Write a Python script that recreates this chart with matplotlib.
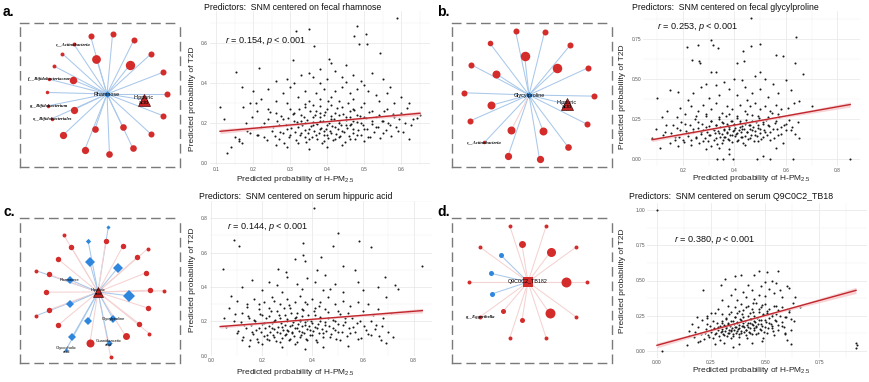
import numpy as np
import matplotlib
matplotlib.use("Agg")
import matplotlib.pyplot as plt
from matplotlib.ticker import AutoMinorLocator

plt.rcParams['font.family'] = ['Liberation Sans', 'DejaVu Sans']
plt.rcParams['mathtext.fontset'] = 'custom'
plt.rcParams['mathtext.rm'] = 'Liberation Sans'
plt.rcParams['mathtext.it'] = 'Liberation Sans:italic'

# ---------------- scatter data (thinned) ----------------
a_x = [0.588, 0.48, 0.351, 0.315, 0.473, 0.505, 0.486, 0.365, 0.508, 0.308, 0.403, 0.543, 0.153, 0.214, 0.41, 0.45,
       0.38, 0.42, 0.35, 0.33, 0.47, 0.52, 0.44, 0.29, 0.36, 0.49, 0.40, 0.26, 0.55, 0.31, 0.38, 0.45, 0.50, 0.57,
       0.17, 0.20, 0.24, 0.28, 0.30, 0.34, 0.37, 0.39, 0.42, 0.44, 0.46, 0.48, 0.51, 0.53, 0.56, 0.60, 0.62, 0.22,
       0.26, 0.32, 0.35, 0.38, 0.41, 0.43, 0.47, 0.50, 0.54, 0.58, 0.19, 0.29,
       0.12, 0.14, 0.16, 0.17, 0.18, 0.19, 0.21, 0.22, 0.23, 0.24, 0.25, 0.26, 0.27, 0.27, 0.28, 0.29, 0.30, 0.30,
       0.31, 0.32, 0.32, 0.33, 0.33, 0.34, 0.34, 0.35, 0.35, 0.36, 0.36, 0.37, 0.37, 0.38, 0.38, 0.39, 0.39, 0.40,
       0.40, 0.41, 0.41, 0.42, 0.42, 0.43, 0.43, 0.44, 0.44, 0.45, 0.45, 0.46, 0.46, 0.47, 0.47, 0.48, 0.48, 0.49,
       0.49, 0.50, 0.50, 0.51, 0.52, 0.52, 0.53, 0.54, 0.55, 0.55, 0.56, 0.57, 0.58, 0.59, 0.60, 0.61, 0.62, 0.63,
       0.65, 0.26, 0.29, 0.35, 0.40, 0.44, 0.31, 0.36, 0.41, 0.39, 0.43, 0.37, 0.34, 0.46, 0.33, 0.42, 0.38, 0.40,
       0.47, 0.28, 0.24, 0.21, 0.13, 0.15, 0.11]
a_y = [0.725, 0.685, 0.668, 0.66, 0.635, 0.643, 0.593, 0.585, 0.593, 0.517, 0.522, 0.553, 0.455, 0.475, 0.50, 0.49,
       0.47, 0.46, 0.45, 0.44, 0.44, 0.45, 0.43, 0.42, 0.43, 0.41, 0.42, 0.41, 0.42, 0.40, 0.40, 0.405, 0.39, 0.38,
       0.38, 0.36, 0.37, 0.35, 0.38, 0.36, 0.35, 0.37, 0.36, 0.38, 0.35, 0.37, 0.36, 0.34, 0.35, 0.33, 0.30, 0.32,
       0.31, 0.33, 0.31, 0.32, 0.33, 0.31, 0.32, 0.30, 0.31, 0.30, 0.30, 0.30,
       0.22, 0.08, 0.12, 0.10, 0.20, 0.15, 0.26, 0.18, 0.13, 0.22, 0.16, 0.25, 0.19, 0.12, 0.22, 0.17, 0.27, 0.14,
       0.21, 0.18, 0.10, 0.24, 0.15, 0.20, 0.28, 0.17, 0.12, 0.23, 0.19, 0.26, 0.14, 0.21, 0.17, 0.24, 0.11, 0.19,
       0.27, 0.15, 0.22, 0.18, 0.25, 0.13, 0.20, 0.28, 0.16, 0.23, 0.19, 0.12, 0.26, 0.21, 0.17, 0.24, 0.14, 0.20,
       0.28, 0.17, 0.23, 0.13, 0.21, 0.26, 0.18, 0.24, 0.15, 0.21, 0.27, 0.19, 0.23, 0.16, 0.25, 0.20, 0.12, 0.22,
       0.24, 0.09, 0.08, 0.07, 0.08, 0.09, 0.25, 0.29, 0.29, 0.16, 0.24, 0.20, 0.13, 0.19, 0.21, 0.12, 0.25, 0.14,
       0.27, 0.15, 0.27, 0.14, 0.05, 0.13, 0.28]
a_core = [[0.213, 0.142], [0.228, 0.203], [0.236, 0.117], [0.244, 0.254], [0.252, 0.183], [0.258, 0.139],
          [0.263, 0.212], [0.271, 0.158], [0.276, 0.238], [0.282, 0.104], [0.287, 0.191], [0.293, 0.227],
          [0.297, 0.132], [0.303, 0.176], [0.306, 0.248], [0.312, 0.157], [0.316, 0.116], [0.319, 0.204],
          [0.323, 0.271], [0.327, 0.143], [0.331, 0.189], [0.336, 0.232], [0.339, 0.167], [0.342, 0.107],
          [0.346, 0.214], [0.348, 0.152], [0.352, 0.263], [0.355, 0.186], [0.358, 0.131], [0.361, 0.208],
          [0.364, 0.164], [0.367, 0.243], [0.371, 0.122], [0.373, 0.196], [0.376, 0.151], [0.379, 0.229],
          [0.382, 0.178], [0.385, 0.103], [0.388, 0.212], [0.391, 0.142], [0.394, 0.257], [0.397, 0.174],
          [0.401, 0.126], [0.404, 0.203], [0.407, 0.161], [0.409, 0.236], [0.413, 0.188], [0.416, 0.117],
          [0.419, 0.221], [0.422, 0.149], [0.425, 0.274], [0.428, 0.172], [0.431, 0.209], [0.434, 0.136],
          [0.437, 0.191], [0.441, 0.246], [0.444, 0.159], [0.447, 0.109], [0.451, 0.217], [0.454, 0.178],
          [0.457, 0.139], [0.461, 0.232], [0.464, 0.194], [0.468, 0.152], [0.472, 0.268], [0.475, 0.121],
          [0.479, 0.207], [0.483, 0.168], [0.487, 0.238], [0.491, 0.143], [0.495, 0.191], [0.499, 0.112],
          [0.503, 0.226], [0.507, 0.172], [0.512, 0.254], [0.516, 0.134], [0.521, 0.197], [0.526, 0.158],
          [0.531, 0.231], [0.536, 0.184], [0.542, 0.127], [0.547, 0.212], [0.553, 0.262], [0.558, 0.166],
          [0.564, 0.201], [0.571, 0.139], [0.577, 0.244], [0.584, 0.183], [0.592, 0.219], [0.603, 0.158],
          [0.614, 0.276], [0.627, 0.191], [0.641, 0.228], [0.196, 0.231], [0.183, 0.164], [0.171, 0.283],
          [0.162, 0.112], [0.206, 0.301], [0.339, 0.296], [0.402, 0.311], [0.455, 0.302], [0.381, 0.287]]

b_x = [0.464, 0.64, 0.214, 0.259, 0.311, 0.317, 0.338, 0.498, 0.465, 0.433, 0.563, 0.589, 0.236, 0.262, 0.268, 0.41,
       0.436, 0.637, 0.309, 0.327, 0.667, 0.498, 0.48, 0.40, 0.36, 0.43, 0.52, 0.55, 0.60, 0.33, 0.27, 0.29, 0.44,
       0.50, 0.38, 0.62, 0.15, 0.18, 0.24, 0.57, 0.47, 0.10, 0.34, 0.41, 0.53, 0.65, 0.70, 0.30, 0.22, 0.45,
       0.14, 0.12, 0.19, 0.23, 0.26, 0.28, 0.31, 0.33, 0.35, 0.37, 0.39, 0.42, 0.44, 0.46, 0.48, 0.50, 0.52, 0.54,
       0.56, 0.58, 0.61, 0.63, 0.21, 0.25, 0.29, 0.34, 0.38, 0.41, 0.45, 0.49, 0.53, 0.57,
       0.08, 0.11, 0.13, 0.15, 0.16, 0.17, 0.18, 0.19, 0.20, 0.21, 0.22, 0.23, 0.24, 0.25, 0.26, 0.27, 0.28, 0.29,
       0.30, 0.31, 0.31, 0.32, 0.33, 0.33, 0.34, 0.35, 0.35, 0.36, 0.36, 0.37, 0.37, 0.38, 0.38, 0.39, 0.39, 0.40,
       0.40, 0.41, 0.41, 0.42, 0.42, 0.43, 0.43, 0.44, 0.44, 0.45, 0.46, 0.46, 0.47, 0.47, 0.48, 0.49, 0.49, 0.50,
       0.51, 0.51, 0.52, 0.53, 0.54, 0.55, 0.56, 0.57, 0.58, 0.59, 0.60, 0.62, 0.65, 0.56, 0.34, 0.38, 0.29,
       0.333, 0.356, 0.395, 0.486, 0.537, 0.628, 0.85, 0.51, 0.38]
b_y = [0.88, 0.76, 0.70, 0.714, 0.746, 0.711, 0.69, 0.72, 0.705, 0.674, 0.65, 0.645, 0.615, 0.61, 0.60, 0.60,
       0.61, 0.60, 0.54, 0.54, 0.53, 0.545, 0.52, 0.50, 0.48, 0.49, 0.50, 0.47, 0.49, 0.46, 0.45, 0.47, 0.45,
       0.44, 0.44, 0.43, 0.43, 0.42, 0.41, 0.41, 0.41, 0.38, 0.40, 0.40, 0.39, 0.36, 0.33, 0.38, 0.37, 0.37,
       0.30, 0.26, 0.32, 0.33, 0.30, 0.34, 0.31, 0.35, 0.29, 0.33, 0.31, 0.34, 0.30, 0.33, 0.35, 0.31, 0.33, 0.30,
       0.34, 0.31, 0.32, 0.35, 0.28, 0.27, 0.28, 0.26, 0.28, 0.27, 0.28, 0.27, 0.26, 0.28,
       0.13, 0.07, 0.17, 0.10, 0.21, 0.14, 0.08, 0.18, 0.12, 0.22, 0.16, 0.09, 0.19, 0.13, 0.23, 0.17, 0.11, 0.20,
       0.15, 0.24, 0.08, 0.18, 0.13, 0.21, 0.16, 0.23, 0.10, 0.19, 0.14, 0.22, 0.17, 0.12, 0.20, 0.24, 0.15, 0.18,
       0.22, 0.11, 0.16, 0.20, 0.24, 0.14, 0.19, 0.22, 0.09, 0.17, 0.21, 0.13, 0.24, 0.18, 0.15, 0.21, 0.11, 0.19,
       0.23, 0.14, 0.17, 0.21, 0.12, 0.19, 0.24, 0.15, 0.20, 0.10, 0.22, 0.18, 0.13, 0.07, 0.07, 0.06, 0.06,
       0.0, 0.0, 0.0, 0.0, 0.0, 0.0, 0.0, 0.02, 0.03]
b_core = [[0.152, 0.163], [0.168, 0.121], [0.177, 0.192], [0.186, 0.137], [0.194, 0.228], [0.203, 0.104],
          [0.211, 0.176], [0.218, 0.143], [0.226, 0.209], [0.233, 0.118], [0.239, 0.167], [0.246, 0.252],
          [0.252, 0.136], [0.258, 0.191], [0.264, 0.097], [0.269, 0.154], [0.274, 0.221], [0.279, 0.182],
          [0.284, 0.128], [0.289, 0.266], [0.294, 0.171], [0.298, 0.112], [0.303, 0.203], [0.307, 0.147],
          [0.311, 0.236], [0.316, 0.184], [0.319, 0.121], [0.323, 0.163], [0.327, 0.211], [0.331, 0.096],
          [0.336, 0.176], [0.339, 0.248], [0.343, 0.139], [0.346, 0.198], [0.351, 0.157], [0.354, 0.116],
          [0.357, 0.226], [0.361, 0.182], [0.364, 0.138], [0.368, 0.267], [0.371, 0.164], [0.374, 0.206],
          [0.377, 0.124], [0.381, 0.189], [0.384, 0.151], [0.387, 0.238], [0.391, 0.108], [0.394, 0.173],
          [0.397, 0.214], [0.401, 0.142], [0.404, 0.196], [0.407, 0.158], [0.411, 0.253], [0.414, 0.119],
          [0.417, 0.181], [0.421, 0.224], [0.424, 0.136], [0.427, 0.167], [0.431, 0.205], [0.434, 0.102],
          [0.438, 0.187], [0.441, 0.146], [0.445, 0.241], [0.448, 0.169], [0.452, 0.127], [0.456, 0.212],
          [0.459, 0.184], [0.463, 0.151], [0.467, 0.272], [0.471, 0.197], [0.475, 0.113], [0.479, 0.176],
          [0.483, 0.229], [0.487, 0.143], [0.492, 0.191], [0.496, 0.258], [0.501, 0.162], [0.505, 0.127],
          [0.511, 0.217], [0.516, 0.181], [0.522, 0.244], [0.527, 0.147], [0.533, 0.203], [0.539, 0.168],
          [0.546, 0.284], [0.552, 0.132], [0.559, 0.226], [0.566, 0.187], [0.574, 0.261], [0.582, 0.154],
          [0.591, 0.213], [0.601, 0.178], [0.612, 0.246], [0.624, 0.201], [0.636, 0.157], [0.649, 0.228],
          [0.133, 0.211], [0.121, 0.152], [0.097, 0.184], [0.178, 0.262]]

c_x = [0.406, 0.088, 0.109, 0.585, 0.631, 0.50, 0.361, 0.483, 0.361, 0.369, 0.33, 0.433, 0.046, 0.833, 0.52, 0.688,
       0.727, 0.74, 0.66, 0.264, 0.296, 0.42, 0.57, 0.30, 0.38, 0.45, 0.16, 0.23, 0.34, 0.41, 0.49, 0.58, 0.26,
       0.12, 0.20, 0.36, 0.44, 0.52, 0.60, 0.69, 0.08, 0.28, 0.47,
       0.07, 0.10, 0.14, 0.17, 0.21, 0.24, 0.27, 0.30, 0.33, 0.35, 0.38, 0.40, 0.43, 0.46, 0.49, 0.52, 0.55, 0.58,
       0.62, 0.66, 0.71, 0.05, 0.09, 0.12, 0.19, 0.23, 0.26, 0.31, 0.36, 0.41, 0.45, 0.50, 0.54, 0.60, 0.64, 0.68,
       0.06, 0.10, 0.12, 0.13, 0.15, 0.16, 0.17, 0.18, 0.19, 0.20, 0.21, 0.22, 0.23, 0.23, 0.24, 0.25, 0.25, 0.26,
       0.27, 0.27, 0.28, 0.29, 0.29, 0.30, 0.30, 0.31, 0.32, 0.32, 0.33, 0.33, 0.34, 0.35, 0.35, 0.36, 0.36, 0.37,
       0.38, 0.38, 0.39, 0.40, 0.40, 0.41, 0.42, 0.42, 0.43, 0.44, 0.45, 0.46, 0.47, 0.48, 0.49, 0.50, 0.51, 0.52,
       0.53, 0.55, 0.56, 0.58, 0.59, 0.61, 0.63, 0.65, 0.67, 0.70, 0.72, 0.28, 0.37, 0.44, 0.54, 0.20, 0.15, 0.34]
c_y = [0.859, 0.674, 0.636, 0.665, 0.63, 0.713, 0.654, 0.64, 0.585, 0.55, 0.56, 0.575, 0.506, 0.52, 0.52, 0.457,
       0.41, 0.39, 0.40, 0.506, 0.49, 0.50, 0.50, 0.46, 0.45, 0.47, 0.44, 0.43, 0.42, 0.43, 0.42, 0.43, 0.41,
       0.40, 0.38, 0.39, 0.38, 0.37, 0.38, 0.34, 0.35, 0.37, 0.39,
       0.28, 0.32, 0.30, 0.33, 0.31, 0.34, 0.30, 0.33, 0.31, 0.35, 0.30, 0.33, 0.31, 0.34, 0.30, 0.32, 0.29, 0.31,
       0.30, 0.27, 0.25, 0.22, 0.20, 0.25, 0.27, 0.28, 0.26, 0.28, 0.27, 0.28, 0.27, 0.26, 0.25, 0.26, 0.24, 0.22,
       0.17, 0.13, 0.09, 0.18, 0.06, 0.14, 0.21, 0.10, 0.16, 0.07, 0.19, 0.12, 0.23, 0.09, 0.16, 0.20, 0.11, 0.14,
       0.22, 0.08, 0.17, 0.12, 0.24, 0.15, 0.20, 0.10, 0.18, 0.13, 0.22, 0.07, 0.16, 0.20, 0.11, 0.14, 0.23, 0.18,
       0.09, 0.21, 0.15, 0.12, 0.19, 0.24, 0.16, 0.08, 0.20, 0.13, 0.18, 0.22, 0.11, 0.16, 0.20, 0.14, 0.09, 0.18,
       0.22, 0.13, 0.17, 0.10, 0.20, 0.15, 0.12, 0.18, 0.09, 0.14, 0.11, 0.05, 0.04, 0.05, 0.06, 0.24, 0.22, 0.25]
c_core = [[0.104, 0.142], [0.117, 0.197], [0.126, 0.112], [0.138, 0.163], [0.146, 0.231], [0.153, 0.092],
          [0.159, 0.177], [0.166, 0.127], [0.172, 0.204], [0.178, 0.151], [0.184, 0.083], [0.191, 0.246],
          [0.196, 0.138], [0.201, 0.186], [0.207, 0.113], [0.212, 0.162], [0.217, 0.221], [0.222, 0.097],
          [0.227, 0.174], [0.231, 0.136], [0.236, 0.263], [0.241, 0.193], [0.245, 0.121], [0.249, 0.157],
          [0.254, 0.211], [0.258, 0.087], [0.262, 0.168], [0.266, 0.238], [0.271, 0.132], [0.275, 0.189],
          [0.279, 0.103], [0.283, 0.152], [0.287, 0.276], [0.291, 0.181], [0.295, 0.124], [0.299, 0.213],
          [0.303, 0.146], [0.307, 0.094], [0.311, 0.172], [0.315, 0.251], [0.319, 0.137], [0.323, 0.198],
          [0.327, 0.116], [0.331, 0.161], [0.335, 0.227], [0.339, 0.083], [0.343, 0.183], [0.347, 0.142],
          [0.351, 0.207], [0.355, 0.119], [0.359, 0.172], [0.363, 0.268], [0.367, 0.131], [0.371, 0.194],
          [0.375, 0.098], [0.379, 0.157], [0.383, 0.236], [0.387, 0.176], [0.391, 0.121], [0.396, 0.201],
          [0.401, 0.143], [0.406, 0.261], [0.411, 0.167], [0.416, 0.092], [0.421, 0.187], [0.426, 0.132],
          [0.431, 0.224], [0.437, 0.156], [0.443, 0.111], [0.449, 0.198], [0.455, 0.146], [0.461, 0.253],
          [0.467, 0.171], [0.474, 0.124], [0.481, 0.209], [0.488, 0.152], [0.495, 0.097], [0.503, 0.183],
          [0.511, 0.241], [0.519, 0.137], [0.528, 0.196], [0.537, 0.116], [0.546, 0.162], [0.556, 0.221],
          [0.567, 0.141], [0.578, 0.189], [0.591, 0.104], [0.604, 0.171], [0.618, 0.128], [0.633, 0.203],
          [0.648, 0.154], [0.662, 0.117], [0.677, 0.176], [0.693, 0.072], [0.142, 0.282], [0.187, 0.302],
          [0.248, 0.317], [0.306, 0.296], [0.372, 0.313], [0.428, 0.292], [0.094, 0.241]]

d_x = [0.0, 0.025, 0.92, 0.925, 0.92,
       0.56, 0.51, 0.47, 0.45, 0.39, 0.36, 0.315, 0.295, 0.215, 0.601, 0.61, 0.53, 0.55, 0.50, 0.42, 0.48, 0.52,
       0.44, 0.40, 0.36, 0.57, 0.34, 0.47, 0.54, 0.41, 0.50, 0.58, 0.64, 0.66, 0.63, 0.45, 0.37, 0.30,
       0.28, 0.33, 0.36, 0.39, 0.42, 0.44, 0.46, 0.48, 0.50, 0.52, 0.54, 0.56, 0.58, 0.61, 0.25, 0.30, 0.34, 0.37,
       0.40, 0.43, 0.45, 0.47, 0.49, 0.51, 0.53, 0.55, 0.59, 0.62, 0.185, 0.21, 0.23,
       0.141, 0.15, 0.17, 0.19, 0.20, 0.22, 0.23, 0.24, 0.25, 0.26, 0.27, 0.28, 0.29, 0.30, 0.30, 0.31, 0.32, 0.32,
       0.33, 0.33, 0.34, 0.34, 0.35, 0.35, 0.36, 0.36, 0.37, 0.37, 0.38, 0.38, 0.39, 0.39, 0.40, 0.40, 0.41, 0.41,
       0.42, 0.42, 0.43, 0.43, 0.44, 0.45, 0.45, 0.46, 0.46, 0.47, 0.48, 0.48, 0.49, 0.50, 0.50, 0.51, 0.52, 0.53,
       0.54, 0.55, 0.56, 0.58, 0.59, 0.60, 0.62, 0.59, 0.53, 0.485, 0.44, 0.38, 0.31, 0.27, 0.35]
d_y = [1.0, 0.0, 0.02, 0.04, 0.06,
       0.57, 0.56, 0.57, 0.54, 0.54, 0.53, 0.51, 0.47, 0.43, 0.46, 0.45, 0.50, 0.48, 0.49, 0.47, 0.46, 0.44,
       0.43, 0.42, 0.44, 0.43, 0.40, 0.40, 0.41, 0.38, 0.39, 0.38, 0.38, 0.31, 0.34, 0.37, 0.36, 0.36,
       0.30, 0.32, 0.31, 0.33, 0.32, 0.30, 0.34, 0.31, 0.33, 0.30, 0.32, 0.29, 0.31, 0.28, 0.27, 0.26, 0.28, 0.27,
       0.29, 0.27, 0.25, 0.28, 0.26, 0.27, 0.25, 0.26, 0.24, 0.23, 0.24, 0.22, 0.25,
       0.045, 0.14, 0.10, 0.17, 0.07, 0.13, 0.19, 0.10, 0.15, 0.21, 0.12, 0.17, 0.08, 0.14, 0.20, 0.11, 0.17, 0.23,
       0.13, 0.19, 0.09, 0.15, 0.21, 0.12, 0.17, 0.24, 0.14, 0.20, 0.10, 0.16, 0.22, 0.13, 0.18, 0.24, 0.15, 0.11,
       0.20, 0.17, 0.23, 0.13, 0.19, 0.16, 0.21, 0.12, 0.18, 0.22, 0.15, 0.19, 0.09, 0.17, 0.22, 0.13, 0.20, 0.16,
       0.11, 0.21, 0.15, 0.18, 0.12, 0.08, 0.05, 0.13, 0.18, 0.07, 0.06, 0.05, 0.06, 0.05, 0.03]
d_core = [[0.204, 0.121], [0.218, 0.086], [0.226, 0.153], [0.237, 0.112], [0.245, 0.178], [0.252, 0.137],
          [0.259, 0.093], [0.265, 0.164], [0.271, 0.126], [0.276, 0.198], [0.281, 0.147], [0.286, 0.107],
          [0.291, 0.176], [0.295, 0.133], [0.299, 0.214], [0.303, 0.158], [0.307, 0.118], [0.311, 0.187],
          [0.314, 0.141], [0.318, 0.232], [0.321, 0.166], [0.324, 0.103], [0.327, 0.196], [0.331, 0.152],
          [0.334, 0.124], [0.337, 0.178], [0.341, 0.216], [0.344, 0.139], [0.347, 0.163], [0.351, 0.107],
          [0.354, 0.192], [0.357, 0.148], [0.361, 0.241], [0.364, 0.171], [0.367, 0.129], [0.371, 0.207],
          [0.374, 0.158], [0.377, 0.186], [0.381, 0.117], [0.384, 0.226], [0.387, 0.143], [0.391, 0.174],
          [0.394, 0.262], [0.397, 0.197], [0.401, 0.131], [0.404, 0.168], [0.407, 0.213], [0.411, 0.152],
          [0.414, 0.094], [0.417, 0.184], [0.421, 0.247], [0.424, 0.137], [0.428, 0.201], [0.431, 0.163],
          [0.435, 0.229], [0.438, 0.118], [0.442, 0.181], [0.446, 0.274], [0.449, 0.147], [0.453, 0.206],
          [0.457, 0.171], [0.461, 0.236], [0.465, 0.128], [0.469, 0.193], [0.474, 0.298], [0.478, 0.157],
          [0.482, 0.218], [0.487, 0.176], [0.492, 0.253], [0.497, 0.136], [0.502, 0.209], [0.507, 0.287],
          [0.513, 0.162], [0.519, 0.232], [0.525, 0.191], [0.531, 0.264], [0.538, 0.143], [0.545, 0.221],
          [0.552, 0.316], [0.561, 0.181], [0.569, 0.247], [0.578, 0.204], [0.588, 0.171], [0.598, 0.238],
          [0.609, 0.293], [0.621, 0.149], [0.634, 0.216], [0.176, 0.133], [0.163, 0.188], [0.192, 0.064],
          [0.148, 0.103], [0.233, 0.236], [0.268, 0.268], [0.412, 0.312], [0.446, 0.341], [0.377, 0.287],
          [0.331, 0.262], [0.486, 0.323]]

# fitted lines (end points) and confidence half-widths (centre, ends)
a_fit_x, a_fit_y = [0.11, 0.65], [0.16, 0.25]
b_fit_x, b_fit_y = [0.08, 0.85], [0.12, 0.34]
c_fit_x, c_fit_y = [0.035, 0.835], [0.17, 0.263]
d_fit_x, d_fit_y = [0.0, 0.92], [0.04, 0.43]
a_ci, b_ci, c_ci, d_ci = [0.004, 0.012], [0.005, 0.016], [0.004, 0.013], [0.005, 0.022]

a_r, b_r, c_r, d_r = "0.154", "0.253", "0.144", "0.380"
titles = ["Predictors:  SNM centered on fecal rhamnose",
          "Predictors:  SNM centered on fecal glycylproline",
          "Predictors:  SNM centered on serum hippuric acid",
          "Predictors:  SNM centered on serum Q9C0C2_TB18"]

# ---------------- network data ----------------
# kind: r = red circle, b = blue diamond, bc = blue circle, tri = triangle
# edge: + pink, - blue
a_hub = ("Rhamnose", "b")
a_out_kind = ["r"] * 19
a_out_size = [2.7, 2.7, 2.7, 3.1, 3.1, 3.5, 3.5, 1.0, 1.0, 1.0, 1.0, 1.3, 1.3, 1.3, 2.7, 2.7, 2.7, 2.7, 2.7]
a_out_label = [""] * 7 + ["o__Bifidobacteriales", "g__Bifidobacterium", "", "f__Bifidobacteriaceae", "", "",
                          "c__Actinobacteria"] + [""] * 5
a_out_edge = ["-"] * 19
a_in_kind = ["tri", "r", "r", "r", "r", "r", "r"]
a_in_size = [6.5, 3.1, 3.1, 3.5, 3.7, 4.5, 4.9]
a_in_label = ["Hippuric\nacid", "", "", "", "", "", ""]
a_in_edge = ["-"] * 7

b_hub = ("Glycylproline", "b")
b_out_kind = ["r"] * 14
b_out_size = [2.7, 2.7, 3.1, 3.5, 3.5, 1.0, 2.7, 2.7, 2.7, 2.4, 2.7, 2.7, 2.7, 2.7]
b_out_label = [""] * 5 + ["c__Actinobacteria"] + [""] * 8
b_out_edge = ["-"] * 14
b_in_kind = ["tri", "r", "r", "r", "r", "r", "r"]
b_in_size = [6.5, 4.0, 4.0, 4.0, 4.0, 5.0, 5.0]
b_in_label = ["Hippuric\nacid", "", "", "", "", "", ""]
b_in_edge = ["-", "-", "+", "-", "-", "-", "-"]

c_hub = ("Hippuric\nacid", "tri")
c_out_kind = ["r", "r", "r", "b", "r", "r", "r", "b", "r"]
c_out_size = [1.3] * 9
c_out_label = ["", "", "", "Glycocholic\nacid", "", "", "", "", ""]
c_out_edge = ["+", "+", "+", "-", "-", "-", "+", "-", "+"]
c_mid_kind = ["r", "r", "r", "r", "b", "r", "b", "r", "r", "r", "r", "r", "r", "b", "r", "r", "r", "r"]
c_mid_size = [2.3, 2.3, 2.3, 3.3, 2.7, 4.0, 3.3, 2.3, 2.3, 2.3, 2.3, 2.3, 2.3, 2.0, 2.3, 2.3, 2.3, 2.3]
c_mid_label = ["", "", "", "", "Guanidoacetic\nacid"] + [""] * 13
c_mid_edge = ["+", "+", "+", "+", "-", "+", "-", "+", "+", "+", "+", "+", "+", "-", "+", "+", "+", "+"]
c_in_kind = ["b"] * 7
c_in_size = [6.7, 3.3, 3.7, 3.7, 3.3, 5.3, 5.3]
c_in_label = ["", "Glycylproline", "", "", "Rhamnose", "", ""]
c_in_edge = ["-"] * 7

d_hub = ("Q9C0C2_TB182", "sq")
d_out_kind = ["r"] * 10
d_out_size = [1.3] * 10
d_out_label = [""] * 4 + ["g__Eggerthella"] + [""] * 5
d_out_edge = ["+"] * 10
d_in_kind = ["r", "r", "r", "r", "bc", "bc", "bc", "r", "r"]
d_in_size = [5.3, 5.3, 2.0, 2.0, 2.0, 2.0, 2.0, 3.3, 4.7]
d_in_label = [""] * 9
d_in_edge = ["+", "+", "+", "+", "-", "-", "-", "+", "+"]

# ---------------- figure helpers ----------------
W, H = 869, 382
fig = plt.figure(figsize=(W / 100, H / 100), dpi=100)
fig.patch.set_facecolor("white")

RED, BLUE = "#D42B2B", "#2F86DD"
EDGE_POS, EDGE_NEG = "#F5D2D2", "#A9C8EA"


def px_axes(l, t, r, b):
    return fig.add_axes([l / W, 1 - b / H, (r - l) / W, (b - t) / H])


def px_text(x, y, s, **kw):
    fig.text(x / W, 1 - y / H, s, **kw)


def ring_angles(sizes, start, pad):
    w = np.array(sizes) * 1.5 + 2 + pad
    c = np.cumsum(w) - w / 2
    ang = 360 * c / w.sum()
    return np.deg2rad(ang - ang[0] + start)


def draw_node(ax, x, y, kind, size, z=3):
    d = (1.5 * size + 2) * 0.72
    if kind == "r":
        ax.plot(x, y, "o", ms=d, color=RED, mec=RED, mew=0, zorder=z)
    elif kind == "bc":
        ax.plot(x, y, "o", ms=d, color=BLUE, mew=0, zorder=z)
    elif kind == "b":
        ax.plot(x, y, "D", ms=d * 0.75, color=BLUE, mew=0, zorder=z)
    elif kind == "tri":
        ax.plot(x, y, "^", ms=d, color="#C62424", mec="#4a0b0b", mew=0.5, zorder=z)
    elif kind == "sq":
        ax.plot(x, y, "s", ms=d, color=RED, mew=0, zorder=z)


def draw_network(box, hub_px, hub, rings, lab_fs):
    l, t, r, b = box
    ax = px_axes(l, t, r, b)
    hx, hy = hub_px
    ax.set_xlim(l - hx, r - hx)
    ax.set_ylim(b - hy, t - hy)
    ax.set_xticks([])
    ax.set_yticks([])
    for sp in ax.spines.values():
        sp.set_linestyle((0, (6, 4.5)))
        sp.set_linewidth(1.0)
        sp.set_color("#7a7a7a")
    for kinds, sizes, labels, edges, radius, start, pad in rings:
        ang = ring_angles(sizes, start, pad)
        xs, ys = radius * np.cos(ang), radius * np.sin(ang)
        for x, y, k, s, lab, e in zip(xs, ys, kinds, sizes, labels, edges):
            ax.plot([0, x], [0, y], color=EDGE_NEG if e == "-" else EDGE_POS, lw=0.75, zorder=1)
            draw_node(ax, x, y, k, s)
            if lab:
                if "__" in lab:
                    ax.text(x, y, lab, fontsize=lab_fs * 0.85, style="italic", weight="bold",
                            family="Liberation Serif", ha="center", va="center", zorder=5)
                else:
                    ax.text(x, y, lab, fontsize=lab_fs, ha="center", va="center",
                            linespacing=0.9, zorder=5)
    name, kind = hub
    draw_node(ax, 0, 0, kind, 2.8 if kind == "b" else 5.3, z=4)
    ax.text(0, 0, name, fontsize=lab_fs, ha="center", va="center", linespacing=0.9, zorder=5)
    return ax


def draw_scatter(box, x, y, core, fit_x, fit_y, ci, xlim, ylim, xt, yt, xfmt, yfmt, r_txt, r_pos):
    ax = px_axes(*box)
    ax.set_xlim(*xlim)
    ax.set_ylim(*ylim)
    ax.set_xticks(xt)
    ax.set_yticks(yt)
    ax.set_xticklabels([xfmt % v for v in xt])
    ax.set_yticklabels([yfmt % v for v in yt])
    ax.xaxis.set_minor_locator(AutoMinorLocator(2))
    ax.yaxis.set_minor_locator(AutoMinorLocator(2))
    ax.grid(which="major", color="#E6E6E6", lw=0.5)
    ax.grid(which="minor", color="#F1F1F1", lw=0.35)
    ax.set_axisbelow(True)
    for sp in ax.spines.values():
        sp.set_visible(False)
    ax.tick_params(which="both", length=0, labelsize=3.5, colors="#555555", pad=1.5)
    px = np.concatenate([x, [p[0] for p in core]])
    py = np.concatenate([y, [p[1] for p in core]])
    ax.scatter(px, py, s=2.2, color="#1a1a1a", linewidths=0, zorder=2)
    xs = np.linspace(fit_x[0], fit_x[1], 80)
    ys = fit_y[0] + (fit_y[1] - fit_y[0]) * (xs - fit_x[0]) / (fit_x[1] - fit_x[0])
    xm = np.mean(px)
    span = max(fit_x[1] - xm, xm - fit_x[0])
    hw = np.sqrt(ci[0] ** 2 + (ci[1] ** 2 - ci[0] ** 2) * ((xs - xm) / span) ** 2)
    ax.fill_between(xs, ys - hw, ys + hw, color="#F6C9CC", alpha=0.8, lw=0, zorder=3)
    ax.plot(xs, ys, color="#C0272D", lw=1.0, zorder=4)
    ax.text(r_pos[0], r_pos[1], "$r$ = %s, $p$ < 0.001" % r_txt, fontsize=6.6, color="#111111",
            ha="left", va="center", zorder=5)
    return ax


# ---------------- panel a ----------------
draw_network((20, 23, 180, 167), (107, 94), a_hub,
             [(a_out_kind, a_out_size, a_out_label, a_out_edge, 60, 0, 0.4),
              (a_in_kind, a_in_size, a_in_label, a_in_edge, 37, 9, 4)], 3.9)
draw_scatter((210, 11, 430, 165), a_x, a_y, a_core, a_fit_x, a_fit_y, a_ci, (0.083, 0.677), (-0.008, 0.76),
             [0.1, 0.2, 0.3, 0.4, 0.5, 0.6], [0.0, 0.2, 0.4, 0.6], "%.1f", "%.1f", a_r, (0.124, 0.61))

# ---------------- panel b ----------------
draw_network((452, 23, 612, 167), (529, 95), b_hub,
             [(b_out_kind, b_out_size, b_out_label, b_out_edge, 65, 1, 6),
              (b_in_kind, b_in_size, b_in_label, b_in_edge, 39, 14, 6)], 3.9)
draw_scatter((643, 11, 860, 166), b_x, b_y, b_core, b_fit_x, b_fit_y, b_ci, (0.045, 0.888), (-0.044, 0.924),
             [0.2, 0.4, 0.6, 0.8], [0.0, 0.25, 0.5, 0.75], "%.1f", "%.2f", b_r, (0.10, 0.825))

# ---------------- panel c ----------------
draw_network((20, 218, 180, 363), (98, 292), c_hub,
             [(c_out_kind, c_out_size, c_out_label, c_out_edge, 66, -1, 8),
              (c_mid_kind, c_mid_size, c_mid_label, c_mid_edge, 52, -2, 30),
              (c_in_kind, c_in_size, c_in_label, c_in_edge, 31, 7, 10)], 3.0)
draw_scatter((210, 201, 432, 356), c_x, c_y, c_core, c_fit_x, c_fit_y, c_ci, (-0.005, 0.873), (-0.001, 0.90),
             [0.0, 0.2, 0.4, 0.6, 0.8], [0.0, 0.2, 0.4, 0.6, 0.8], "%.1f", "%.1f", c_r, (0.063, 0.75))

# ---------------- panel d ----------------
draw_network((452, 218, 612, 363), (528, 282), d_hub,
             [(d_out_kind, d_out_size, d_out_label, d_out_edge, 59, 0, 8),
              (d_in_kind, d_in_size, d_in_label, d_in_edge, 38, 0, 1.5)], 3.9)
draw_scatter((647, 203, 867, 358), d_x, d_y, d_core, d_fit_x, d_fit_y, d_ci, (-0.046, 0.971), (-0.05, 1.05),
             [0.0, 0.25, 0.5, 0.75], [0.0, 0.25, 0.5, 0.75, 1.0], "%.2f", "%.2f", d_r, (0.08, 0.79))

# ---------------- titles, axis titles, panel letters ----------------
for (tx, ty), t in zip([(204, 8), (632, 8), (199, 197), (629, 197)], titles):
    px_text(tx, ty, t, fontsize=6.3, ha="left", va="center", color="#111111")
for (lx, ly) in [(192, 99), (623, 97), (193, 280), (623, 281)]:
    px_text(lx, ly, "Predicted probability of T2D", fontsize=6.0, rotation=90,
            ha="center", va="center", color="#222222")
for (lx, ly) in [(295, 179), (751, 178), (295, 373), (751, 370)]:
    px_text(lx, ly, "Predicted probability of H-PM$_{2.5}$", fontsize=6.0,
            ha="center", va="center", color="#222222")
for (lx, ly), s in zip([(3, 12), (437, 12), (3, 212), (437, 212)], ["a.", "b.", "c.", "d."]):
    px_text(lx, ly, s, fontsize=10, weight="bold", ha="left", va="center")

fig.savefig("out.png", dpi=100, facecolor="white")
